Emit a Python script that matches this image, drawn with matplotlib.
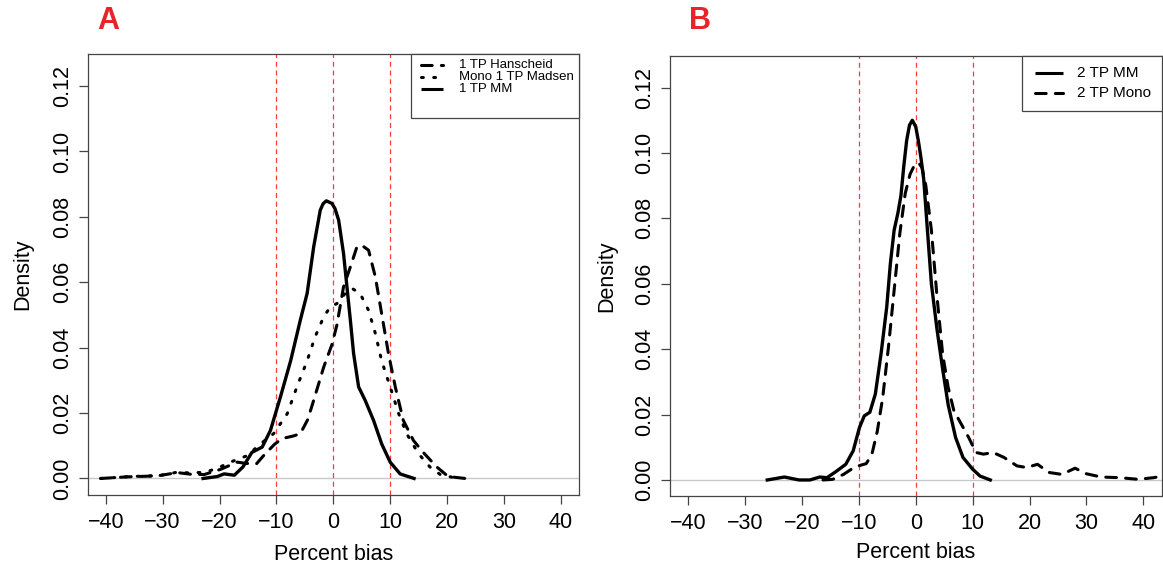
import numpy as np
import matplotlib
matplotlib.use("Agg")
from matplotlib import pyplot as plt
from matplotlib.lines import Line2D
from matplotlib.patches import Rectangle

plt.rcParams['font.family'] = ['Liberation Sans', 'DejaVu Sans']

# Panel A: one time point densities (percent bias)
mm1_x = [-22.9, -20.4, -19.2, -17.4, -15.9, -14.3, -12.5, -11.05, -9.3, -7.5, -5.8, -4.6, -3.45, -2.3,
         -1.8, -1.23, -0.23, 0.3, 0.94, 1.8, 2.4, 3.0, 3.57, 4.45, 5.6, 7.07, 8.5, 10.0, 11.75, 14.2]
mm1_y = [0, 0.0006, 0.0014, 0.001, 0.0035, 0.008, 0.0096, 0.0147, 0.0249, 0.036, 0.0484, 0.0566, 0.0708, 0.082,
         0.0840, 0.0849, 0.0841, 0.0825, 0.079, 0.0688, 0.0586, 0.0484, 0.0382, 0.028, 0.0239, 0.0178, 0.0106,
         0.005, 0.0014, 0]

hans1_x = [-40.9, -36.2, -30.9, -27.4, -25.1, -22.7, -19.8, -16.9, -15.3, -13.5, -12.0, -10.3, -9.0, -7.0,
           -5.8, -4.5, -3.45, -1.7, -0.23, 0.64, 1.8, 3.0, 4.15, 5.0, 6.2, 7.4, 8.5, 9.7, 10.9, 12.3, 14.1,
           15.8, 18.2, 20.2, 23.2]
hans1_y = [0, 0.0005, 0.0008, 0.0018, 0.0013, 0.0012, 0.0028, 0.005, 0.0046, 0.0045, 0.0075, 0.0105, 0.0122,
           0.013, 0.0137, 0.018, 0.0239, 0.034, 0.041, 0.047, 0.0586, 0.0647, 0.0708, 0.0713, 0.0698, 0.0616,
           0.0504, 0.0382, 0.028, 0.0178, 0.0116, 0.008, 0.0035, 0.0006, 0]

mad1_x = [-40.9, -35.5, -30.5, -27.5, -25.3, -22.5, -20.3, -17.8, -15.1, -12.8, -10.5, -8.1, -6.4, -4.6,
          -3.2, -1.7, -0.5, 0.64, 2.1, 3.3, 4.7, 6.2, 7.4, 8.5, 10.0, 11.5, 12.9, 14.97, 17.0, 18.8, 21.1, 22.5]
mad1_y = [0, 0.0006, 0.0009, 0.0019, 0.0017, 0.0019, 0.0032, 0.0052, 0.007, 0.0106, 0.0137, 0.0198, 0.028,
          0.036, 0.0433, 0.0494, 0.0525, 0.0535, 0.0566, 0.0581, 0.0566, 0.0514, 0.0443, 0.036, 0.028, 0.0198,
          0.0137, 0.0076, 0.0035, 0.0012, 0.0003, 0]

# Panel B: two time points
mm2_x = [-26.1, -23.1, -20.5, -18.6, -16.9, -15.6, -14.0, -12.3, -11.0, -9.9, -9.05, -8.07, -7.1, -6.1, -5.1,
         -4.46, -3.8, -3.15, -2.6, -2.1, -1.6, -1.1, -0.6, 0.0, 0.45, 0.9, 1.4, 1.9, 2.75, 3.74, 4.72, 5.7,
         7.0, 8.3, 10.0, 11.3, 13.1]
mm2_y = [0, 0.0009, 0, 0, 0.0009, 0.0007, 0.0026, 0.0048, 0.0089, 0.016, 0.0196, 0.0207, 0.0263, 0.0386,
         0.0529, 0.0662, 0.0764, 0.0815, 0.0870, 0.0960, 0.1038, 0.1085, 0.1100, 0.1080, 0.1038, 0.0987,
         0.092, 0.080, 0.060, 0.046, 0.034, 0.023, 0.013, 0.0069, 0.0033, 0.0012, 0]

mono2_x = [-16.3, -14.6, -12.7, -10.7, -8.7, -7.7, -6.75, -5.8, -4.8, -3.8, -2.8, -1.84, -1.0, -0.3, 0.5,
           1.1, 1.77, 2.75, 3.74, 4.72, 5.7, 6.7, 8.0, 9.3, 10.6, 11.9, 13.6, 15.5, 17.8, 19.5, 21.4, 23.4,
           25.7, 28.0, 30.0, 32.6, 35.9, 39.1, 41.8, 43.4]
mono2_y = [0, 0.0002, 0.0017, 0.004, 0.005, 0.0079, 0.015, 0.0253, 0.0406, 0.058, 0.0754, 0.0877, 0.0935,
           0.0960, 0.0970, 0.0955, 0.0900, 0.0764, 0.056, 0.0386, 0.0283, 0.0212, 0.0171, 0.013, 0.0084,
           0.0079, 0.0084, 0.0069, 0.0043, 0.0038, 0.0048, 0.0023, 0.0017, 0.0036, 0.0019, 0.0009, 0.0007,
           0.0002, 0.0007, 0.0012]

ref_lines = [-10, 0, 10]
x_ticks = [-40, -30, -20, -10, 0, 10, 20, 30, 40]
y_ticks = [0.00, 0.02, 0.04, 0.06, 0.08, 0.10, 0.12]

W, H = 1163, 569
fig = plt.figure(figsize=(W / 100, H / 100), dpi=100)

DASHED = (0, (3.5, 3.0))
DOTTED = (0, (0.6, 3.4))
AXCOL = '#444444'


def make_axes(left, top, width, height):
    ax = fig.add_axes([left / W, 1 - (top + height) / H, width / W, height / H])
    ax.set_xlim(-43.2, 43.2)
    ax.set_ylim(-0.0049, 0.1298)
    ax.set_xticks(x_ticks)
    ax.set_yticks(y_ticks)
    ax.set_yticklabels(["%.2f" % v for v in y_ticks], rotation=90, va='center')
    ax.tick_params(direction='out', length=6.5, width=0.9, color=AXCOL, labelsize=15.5, pad=4)
    ax.tick_params(axis='x', pad=6)
    for s in ax.spines.values():
        s.set_color(AXCOL)
        s.set_linewidth(0.9)
    ax.axhline(0, color='#c8c8c8', lw=1.0, zorder=1)
    for v in ref_lines:
        ax.axvline(v, color='#ff3b3b', lw=0.9, ls=(0, (4, 3)), zorder=1)
    ax.set_xlabel("Percent bias", fontsize=15.5)
    ax.set_ylabel("Density", fontsize=15.5)
    return ax


def box_legend(ax, rect, box, rows, line_x, text_x, row_y, fontsize):
    # rect: axes box in pixels, box: legend frame in pixels (left, top, right, bottom)
    L, T, Wd, Ht = rect

    def fx(px):
        return (px - L) / Wd

    def fy(py):
        return (T + Ht - py) / Ht

    ax.add_patch(Rectangle((fx(box[0]), fy(box[3])), fx(box[2]) - fx(box[0]), fy(box[1]) - fy(box[3]),
                           transform=ax.transAxes, facecolor='white', edgecolor=AXCOL, lw=0.9,
                           clip_on=False, zorder=5))
    for (label, ls), py in zip(rows, row_y):
        ax.add_line(Line2D([fx(line_x[0]), fx(line_x[1])], [fy(py), fy(py)], transform=ax.transAxes,
                           color='black', lw=2.2, ls=ls, solid_capstyle='butt', dash_capstyle='round',
                           clip_on=False, zorder=6))
        ax.text(fx(text_x), fy(py), label, transform=ax.transAxes, fontsize=fontsize, va='center',
                ha='left', zorder=6)


# panel A
rect_a = (87.6, 54, 491.4, 440.5)
ax1 = make_axes(*rect_a)
ax1.plot(hans1_x, hans1_y, color='black', lw=2.2, ls=DASHED, dash_capstyle='round')
ax1.plot(mad1_x, mad1_y, color='black', lw=2.2, ls=DOTTED, dash_capstyle='round')
ax1.plot(mm1_x, mm1_y, color='black', lw=2.4)
ax1.xaxis.set_label_coords(0.5, -0.112)
ax1.yaxis.set_label_coords(-0.111, 0.5)
box_legend(ax1, rect_a, (411, 54, 579, 118),
           [("1 TP Hanscheid", DASHED), ("Mono 1 TP Madsen", DOTTED), ("1 TP MM", '-')],
           (421, 443), 459, (65, 77, 89), 9.5)
fig.text(108 / W, 1 - 21 / H, "A", color='#e8232a', fontsize=22, fontweight='bold', ha='center', va='center')

# panel B
rect_b = (670, 55.5, 491.5, 440.5)
ax2 = make_axes(*rect_b)
ax2.plot(mm2_x, mm2_y, color='black', lw=2.4)
ax2.plot(mono2_x, mono2_y, color='black', lw=2.2, ls=DASHED, dash_capstyle='round')
ax2.xaxis.set_label_coords(0.5, -0.104)
ax2.yaxis.set_label_coords(-0.108, 0.5)
box_legend(ax2, rect_b, (1022, 55.5, 1161.5, 111),
           [("2 TP MM", '-'), ("2 TP Mono", DASHED)],
           (1035, 1063), 1077, (73, 93), 11)
fig.text(700 / W, 1 - 21 / H, "B", color='#e8232a', fontsize=22, fontweight='bold', ha='center', va='center')

fig.savefig("out.png", dpi=100)
